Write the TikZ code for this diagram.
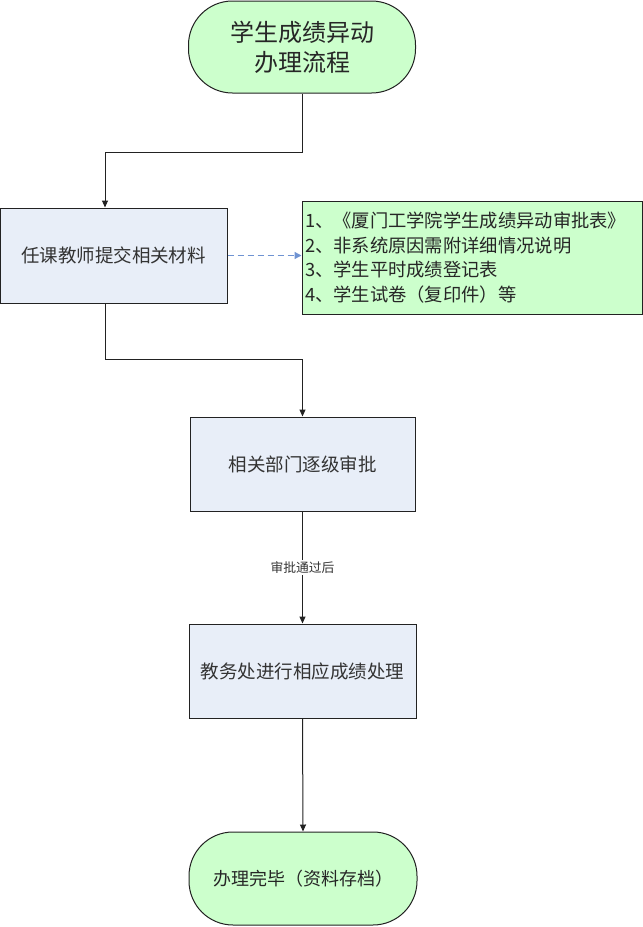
\documentclass[tikz,border=0pt]{standalone}
\usepackage{fontspec}
\setmainfont{Noto Sans CJK SC}
\usetikzlibrary{arrows.meta}
\definecolor{boxblue}{HTML}{E8EEF8}
\definecolor{termgreen}{HTML}{CCFFCC}
\definecolor{dashblue}{HTML}{6F93D2}
\definecolor{linegray}{HTML}{222222}
\begin{document}
\begin{tikzpicture}[x=1pt,y=-1pt,
  procbox/.style={draw=linegray, line width=1pt, fill=boxblue, inner sep=0pt,
    font=\fontsize{18.5}{22}\selectfont, text=black!80},
  termbox/.style={draw=linegray, line width=1pt, fill=termgreen, inner sep=0pt,
    rounded corners=44pt, align=center, text=black!85},
  notebox/.style={draw=linegray, line width=1pt, fill=termgreen, inner xsep=3pt, inner ysep=0pt,
    align=left, font=\fontsize{18.3}{24.5}\selectfont, text=black!85},
  conn/.style={draw=linegray, line width=1pt, -{Triangle[length=7pt,width=6pt]}},
  dconn/.style={draw=dashblue, line width=1.3pt, dash pattern=on 6pt off 4pt, -{Triangle[length=7pt,width=7pt]}},
  lbl/.style={fill=white, inner sep=2pt, font=\fontsize{12.8}{14}\selectfont, text=black!80}
]
\useasboundingbox (0,0) rectangle (643,927);
\fill[white] (0,0) rectangle (643,927);

\node[termbox, minimum width=227pt, minimum height=92pt, font=\fontsize{24}{30}\selectfont] (start) at (302,47) {学生成绩异动\\办理流程};
\node[procbox, minimum width=227pt, minimum height=95pt] (box1) at (113.5,255.5) {任课教师提交相关材料};
\node[notebox, text width=334pt, minimum height=113pt] (note) at (472,257.5)
  {1、《厦门工学院学生成绩异动审批表》\\2、非系统原因需附详细情况说明\\3、学生平时成绩登记表\\4、学生试卷（复印件）等};
\node[procbox, minimum width=225pt, minimum height=94pt] (box2) at (302.5,464) {相关部门逐级审批};
\node[procbox, minimum width=227pt, minimum height=94pt] (box3) at (302.5,671) {教务处进行相应成绩处理};
\node[termbox, minimum width=228pt, minimum height=93pt, font=\fontsize{18}{22}\selectfont] (finish) at (303,878.5) {办理完毕（资料存档）};

\coordinate (j1) at (105,152);
\coordinate (j2) at (105,359);

\draw[conn] (start.south) |- (j1) -- (j1 |- box1.north);
\draw[dconn] (box1.east) -- (box1.east -| note.west);
\draw[conn] (j2 |- box1.south) -- (j2) -| (box2.north);
\draw[conn] (box2.south) -- node[lbl] (lab) {审批通过后} (box3.north);
\draw[conn] (box3.south) -- (finish.north);
\end{tikzpicture}
\end{document}
